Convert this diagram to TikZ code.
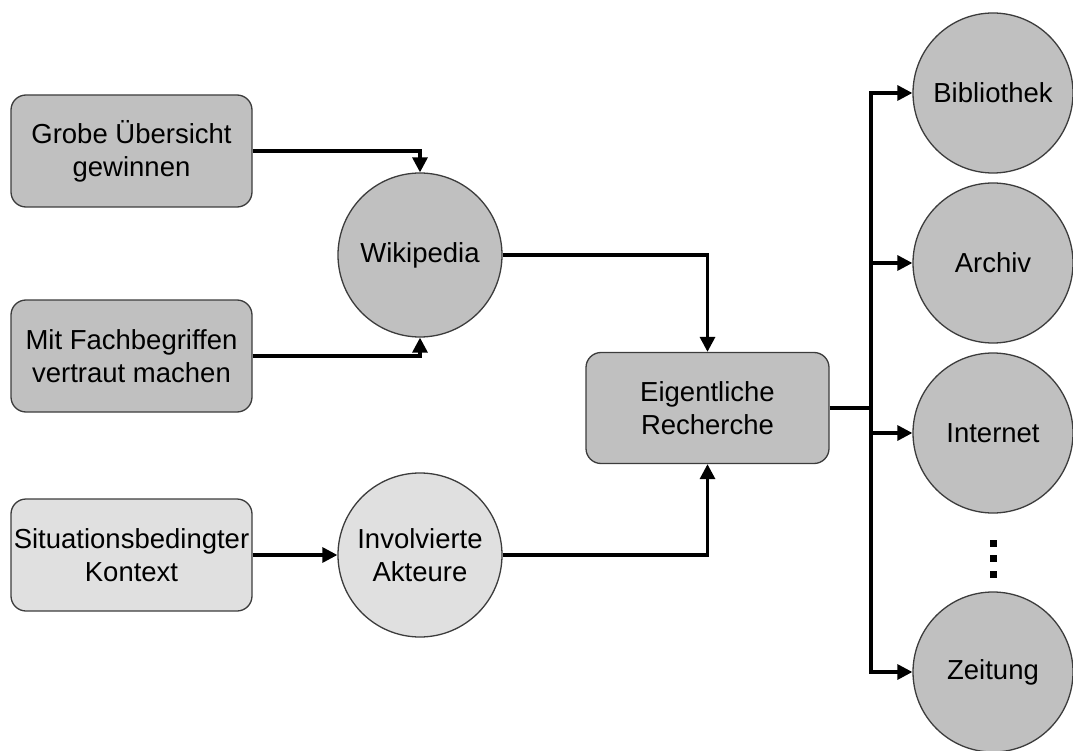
\documentclass[tikz,border=0pt]{standalone}
\usepackage{fontspec}
\setmainfont{Liberation Sans}
\usetikzlibrary{arrows.meta}
\definecolor{boxgray}{RGB}{192,192,192}
\definecolor{lightgray}{RGB}{224,224,224}
\definecolor{edgegray}{RGB}{60,60,60}
\begin{document}
\begin{tikzpicture}[x=1pt,y=-1pt,
  every node/.style={font=\fontsize{27.5}{33}\selectfont, align=center, inner sep=0pt},
  box/.style={draw=edgegray, line width=1.3pt, rounded corners=15pt, fill=boxgray, minimum width=241pt, minimum height=112pt},
  lbox/.style={box, fill=lightgray},
  circ/.style={circle, draw=edgegray, line width=1.3pt, fill=boxgray, minimum size=164pt},
  lcirc/.style={circ, fill=lightgray},
  rcirc/.style={circle, draw=edgegray, line width=1.3pt, fill=boxgray, minimum size=160pt},
  arr/.style={line width=3.2pt, -{Triangle[length=15pt,width=15pt]}},
  ln/.style={line width=3.2pt},
  dot/.style={fill=black, minimum size=7pt, rectangle}
]
\useasboundingbox (0,0) rectangle (1073,751);
\node[box] (g) at (131.5,151) {Grobe Übersicht\\gewinnen};
\node[box] (m) at (131.5,356) {Mit Fachbegriffen\\vertraut machen};
\node[lbox] (s) at (131.5,555) {Situationsbedingter\\Kontext};
\node[circ] (w) at (420,255) {Wikipedia};
\node[lcirc] (i) at (420,555) {Involvierte\\Akteure};
\node[box, minimum width=243pt, minimum height=111pt] (r) at (707.5,408) {Eigentliche\\Recherche};
\node[rcirc] (b) at (993,93) {Bibliothek};
\node[rcirc] (a) at (993,263) {Archiv};
\node[rcirc] (n) at (993,433) {Internet};
\node[rcirc] (z) at (993,672) {Zeitung};
\node[dot] (d1) at (993,543) {};
\node[dot] (d2) at (993,558) {};
\node[dot] (d3) at (993,574) {};
\coordinate (j) at (871,408);
\draw[arr] (g.east) -| (w.north);
\draw[arr] (m.east) -| (w.south);
\draw[arr] (s.east) -- (i.west);
\draw[arr] (w.east) -| (r.north);
\draw[arr] (i.east) -| (r.south);
\draw[ln] (r.east) -- (j);
\draw[arr] (j) |- (b.west);
\draw[arr] (j) |- (a.west);
\draw[arr] (j) |- (n.west);
\draw[arr] (j) |- (z.west);
\end{tikzpicture}
\end{document}
